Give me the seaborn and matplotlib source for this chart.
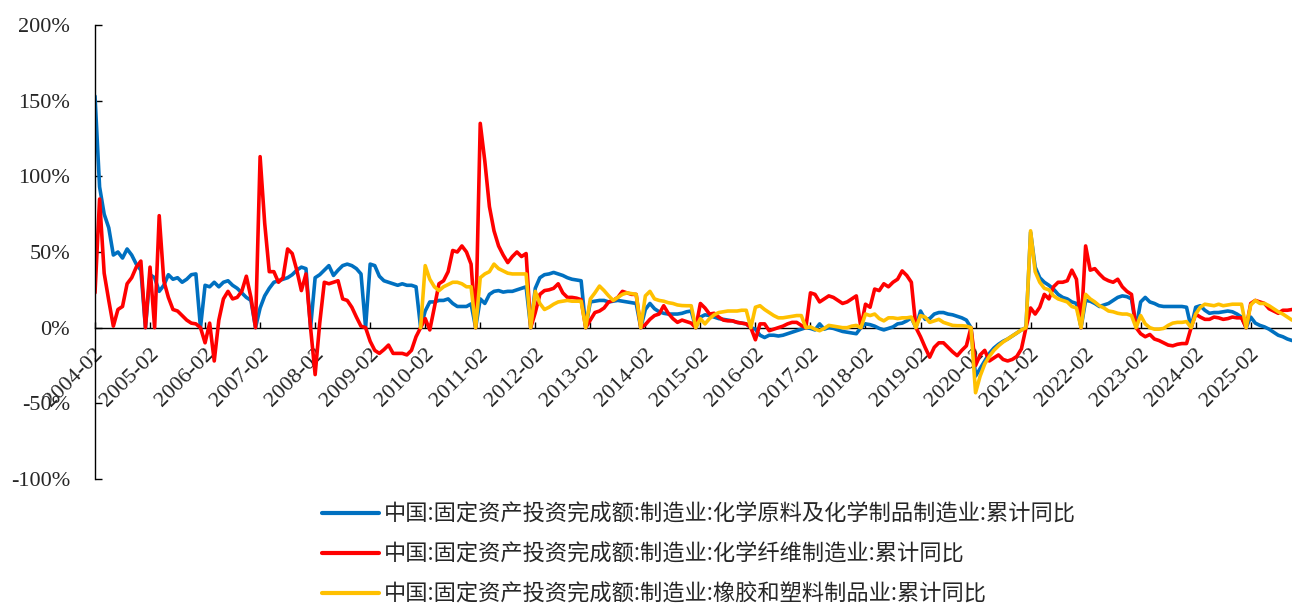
import numpy as np
import pandas as pd
import matplotlib.pyplot as plt
import matplotlib.transforms as mtransforms
import seaborn as sns

# monthly cumulative YoY (%), one row per year, Feb..Dec (January is not published)
chem_raw = [
    [153, 93, 75, 66, 48, 50, 46, 52, 48, 42, 38],            # 2004
    [35, 33, 24, 28, 35, 32, 33, 30, 32, 35, 35.5],           # 2005
    [28, 27, 30, 27, 30, 31, 28, 26, 23, 20, 18],             # 2006
    [13, 21, 26, 30, 31, 32, 33, 35, 38, 40, 39],             # 2007
    [33, 35, 38, 41, 34.5, 38, 41, 42, 41, 39, 35.5],         # 2008
    [42, 41, 34, 31, 30, 29, 28, 29, 28, 28, 27],             # 2009
    [11, 17, 17, 18, 18, 19, 16, 14, 14, 14, 15.7],           # 2010
    [19, 16, 22, 24, 24.5, 23.5, 24, 24, 25, 26, 27],         # 2011
    [26, 33, 35, 35.5, 36.5, 35.5, 34.5, 33, 32, 31.5, 31],   # 2012
    [17, 17.5, 18, 18, 17, 17.5, 18, 17.5, 17, 16.5, 16],     # 2013
    [12, 16, 12.5, 10.5, 9.5, 9, 9, 9, 9.5, 10.5, 11],        # 2014
    [7, 8.5, 8, 7, 6, 5.5, 5, 4.5, 3.5, 3, 2.5],              # 2015
    [-1, -5, -6.5, -5, -5, -5.5, -5, -4, -3, -2, -1],         # 2016
    [-0.5, -1.5, 2.5, -1, 0, -0.5, -1.5, -2.5, -3, -3.5, -4], # 2017
    [2.5, 2, 1, -0.5, -1.5, -0.5, 0.5, 2.5, 3, 4.5, 6.5],     # 2018
    [11, 5.5, 6, 9, 10, 10, 9, 8.5, 7.5, 6.5, 5],             # 2019
    [-32, -27, -22, -17, -13.5, -11, -9, -7.5, -5.5, -3.5, -1.5],  # 2020
    [63, 40, 33, 30, 28, 25.5, 22, 20, 19, 17, 16],           # 2021
    [18, 17.5, 16, 14, 15, 16, 18, 20, 21, 20.5, 19],         # 2022
    [17, 20, 17, 16, 14.5, 14, 14, 14, 14, 14, 13.5],         # 2023
    [13.5, 14.5, 11.5, 9.5, 10, 10, 10.5, 11, 10.5, 9, 7],    # 2024
    [7, 3, 1.5, 0.5, -1, -3, -5, -6, -7.5, -8.5],             # 2025
]

fiber_raw = [
    [23, 85, 36, 18, 1, 12, 14, 29, 33, 40, 44],              # 2004
    [40, 0, 74, 31, 20, 12, 11, 8, 5, 3, 2.5],                # 2005
    [-10, 3, -22, 5, 19, 24, 19, 20, 24, 34, 20],             # 2006
    [113, 69, 37, 37, 30, 33, 52, 49, 38, 24.5, 35.5],        # 2007
    [-31, 3, 30, 29, 30, 31, 19, 18, 13.5, 7, 1],             # 2008
    [-9, -15, -17, -14.5, -11.5, -17, -17, -17, -18, -15, -6],  # 2009
    [6, -1.5, 13.5, 29, 31, 37, 51, 50, 54, 50, 42],          # 2010
    [135, 110, 80, 64, 54, 48, 43, 47, 50, 47, 49],           # 2011
    [10, 22, 24.5, 25, 26, 29, 23, 20, 20, 19.5, 18.5],       # 2012
    [5, 10, 11, 13, 17, 18, 20, 24, 23, 22, 22],              # 2013
    [2, 5.5, 8, 9, 14.5, 9.5, 6, 3.5, 5, 4, 3],               # 2014
    [16, 13, 9, 9.5, 7, 5, 4.5, 4.5, 3.5, 3, 2.5],            # 2015
    [-8, 2.5, 2.5, -2, -1, 0, 1, 2.5, 3.5, 3.5, 1.5],         # 2016
    [23, 22, 17, 19, 21, 20, 18, 16, 17, 19, 21],             # 2017
    [15.5, 13.5, 25.5, 24.5, 29, 27, 30, 32, 37.5, 34.5, 30], # 2018
    [-6, -13, -19.5, -13, -10, -10, -13, -16, -18.5, -15, -12],  # 2019
    [-25, -18, -15, -22, -20, -18, -21, -22, -21, -19, -14],  # 2020
    [13, 9, 13.5, 22, 19, 27, 30, 30, 31, 38, 32],            # 2021
    [54, 38, 39, 35.5, 32.5, 31, 30, 32, 27, 24, 22],         # 2022
    [-4, -6, -4.5, -7.5, -8.5, -10, -11.5, -12, -11, -10.5, -10.5],  # 2023
    [9, 7, 5.5, 5.5, 7, 6.5, 5.5, 6, 7, 6.5, 6.5],            # 2024
    [16, 18, 17, 16, 12.5, 11, 9.5, 11.5, 11.5, 12],          # 2025
]

rubber_raw = [
    [41, 32, 27, 24.5, 27, 28.5, 30, 30, 29, 27, 27],         # 2010
    [33, 35.5, 37, 42, 39, 37.5, 36, 35.5, 35.5, 35.5, 35.5], # 2011
    [24, 16, 12, 13.5, 15.5, 17, 17.5, 18, 17.5, 17.5, 17.5], # 2012
    [19, 23, 27.5, 24.5, 21, 18, 20, 22, 23, 22.5, 22],       # 2013
    [21, 24, 19, 18, 17.5, 16.5, 16, 15, 14.6, 14.5, 14.5],   # 2014
    [6, 2.5, 6, 8.5, 10, 10.5, 11, 11, 11, 11.5, 11.5],       # 2015
    [13.5, 14.5, 12, 10, 8, 6.5, 6.5, 7, 7.5, 8, 8],          # 2016
    [0.5, -1, -2, -0.5, 1.5, 1, 0.5, 0, 0, 1, 1.5],           # 2017
    [9, 8, 9, 6, 4.5, 6.5, 6.5, 6, 6.5, 6.5, 7],              # 2018
    [8, 7, 3.5, 4.5, 5.5, 3.5, 2.5, 1.5, 1.3, 1.3, 1],        # 2019
    [-43, -32, -24, -19, -15, -12, -9.5, -7.5, -5.5, -3.5, -1.5],  # 2020
    [64, 37, 30, 26, 25, 21, 19, 18, 17, 14, 13],             # 2021
    [22, 19, 17, 14.5, 13, 11, 10.5, 9.5, 9, 9, 8],           # 2022
    [8, 2.5, 0, -1, -1, -0.5, 1.5, 3, 3.5, 3.5, 4],           # 2023
    [9, 13.5, 15.5, 15, 14.5, 15.5, 14.5, 15, 15.5, 15.5, 15.5],  # 2024
    [15, 18, 16, 16, 14.5, 12.5, 10.5, 9, 7, 5],              # 2025
]

names = [
    "中国:固定资产投资完成额:制造业:化学原料及化学制品制造业:累计同比",
    "中国:固定资产投资完成额:制造业:化学纤维制造业:累计同比",
    "中国:固定资产投资完成额:制造业:橡胶和塑料制品业:累计同比",
]
colors = ["#0070C0", "#FF0000", "#FFC000"]
tick_years = list(range(2004, 2026))


def to_monthly(rows, first_year):
    # Excel plots the blank January cells as zero
    vals, dates = [], []
    for i, row in enumerate(rows):
        y = first_year + i
        if y != 2004:
            vals.append(0)
            dates.append(f"{y}-01")
        vals.extend(row)
        dates.extend(f"{y}-{m:02d}" for m in range(2, 2 + len(row)))
    return dates, vals


frames = []
for name, rows, y0 in zip(names, [chem_raw, fiber_raw, rubber_raw], [2004, 2004, 2010]):
    d, v = to_monthly(rows, y0)
    frames.append(pd.DataFrame({"date": d, "value": v, "series": name}))
df = pd.concat(frames, ignore_index=True)

all_dates = frames[0]["date"].tolist()
pos = {d: i for i, d in enumerate(all_dates)}
df["x"] = df["date"].map(pos)

sns.set_style("white")
plt.rcParams["font.family"] = ["Liberation Serif", "DejaVu Serif"]

fig = plt.figure(figsize=(12.92, 6.04), dpi=100)
ax = fig.add_axes([95 / 1292, 1 - 479 / 604, 1 - 95 / 1292, (479 - 25) / 604])

sns.lineplot(data=df, x="x", y="value", hue="series", hue_order=names,
             palette=colors, linewidth=2.6, estimator=None, sort=False, ax=ax)

# spines first: moving a spine resets the ticks
for s in ["top", "right"]:
    ax.spines[s].set_visible(False)
ax.spines["bottom"].set_position(("data", 0))
ax.spines["bottom"].set_color("black")
ax.spines["bottom"].set_linewidth(1)
ax.spines["bottom"].set_zorder(0.5)
ax.spines["left"].set_color("black")
ax.spines["left"].set_linewidth(1)

ax.set_xlim(0, len(all_dates) - 1)
ax.set_ylim(-100, 200)
ax.set_yticks(np.arange(-100, 201, 50))
ax.set_yticklabels([f"{v}%" for v in range(-100, 201, 50)], fontsize=16)

ticks = [pos[f"{y}-02"] for y in tick_years]
ax.set_xticks(ticks)
ax.set_xticklabels([f"{y}-02" for y in tick_years], fontsize=16,
                   rotation=45, ha="right", va="top", rotation_mode="anchor")

ax.set_xlabel("")
ax.set_ylabel("")
ax.tick_params(axis="y", direction="in", length=5, width=1, color="black", pad=18, left=True)
ax.tick_params(axis="x", direction="in", length=4, width=1, color="black", pad=12.5, bottom=True)

offset = mtransforms.ScaledTranslation(-0.01, 0, fig.dpi_scale_trans)
for lab in ax.get_xticklabels():
    lab.set_transform(lab.get_transform() + offset)

handles, labels = ax.get_legend_handles_labels()
ax.get_legend().remove()
for h in handles:
    h.set_linewidth(3)
fig.legend(handles, labels, loc="upper left", bbox_to_anchor=(322 / 1292, 1 - 503 / 604),
           frameon=False, borderpad=0, borderaxespad=0, handlelength=2.55,
           handletextpad=0.22, labelspacing=0.75,
           prop={"family": ["Noto Sans CJK SC", "DejaVu Sans"], "size": 16})

fig.savefig("out.png", dpi=100)
